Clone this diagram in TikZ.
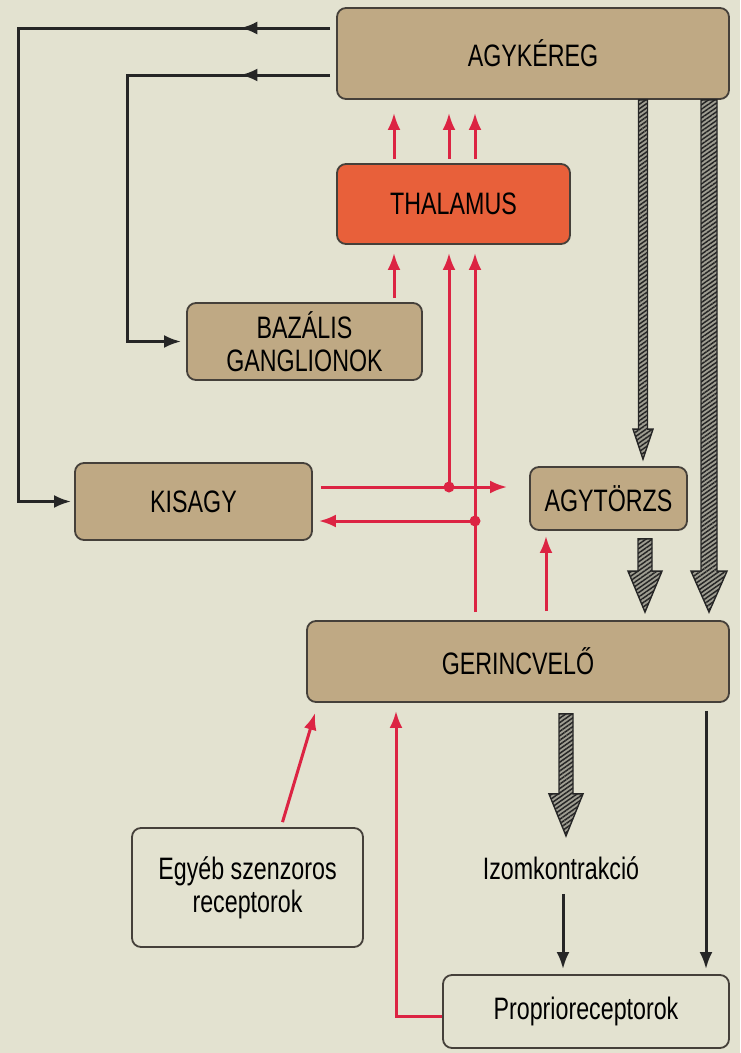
\documentclass[tikz,border=0pt]{standalone}
\usepackage{fontspec}
\setmainfont{Liberation Sans}[FakeStretch=0.75]
\usetikzlibrary{arrows.meta, calc, patterns.meta, decorations.markings}

\definecolor{paper}{HTML}{E3E2D0}
\definecolor{tan}{HTML}{BFA984}
\definecolor{thal}{HTML}{E8603A}
\definecolor{nervered}{HTML}{DC2443}
\definecolor{edge}{HTML}{45403A}

% hatched motor arrow: start, end, half shaft, half head, head length
\newcommand\hatcharrow[5]{%
  \draw[hatch] let \p1=(#1), \p2=(#2) in
    (\x1-#3,\y1) -- (\x1-#3,\y2+#5) -- (\x1-#4,\y2+#5) -- (\x1,\y2)
    -- (\x1+#4,\y2+#5) -- (\x1+#3,\y2+#5) -- (\x1+#3,\y1) -- cycle;}

\begin{document}
\begin{tikzpicture}[
  x=1pt, y=-1pt,
  box/.style={rectangle, draw=edge, line width=1.8pt, rounded corners=9pt, fill=tan, inner sep=0pt, align=center, font=\fontsize{31}{33}\selectfont},
  thalbox/.style={box, fill=thal},
  openbox/.style={box, fill=none},
  nerve/.style={draw=nervered, line width=3pt, -{Latex[length=17pt,width=13pt]}},
  motor/.style={color=black!85, line width=3pt, -{Latex[length=17pt,width=13pt]}},
  midtip/.style={postaction={decorate, decoration={markings, mark=at position #1 with {\arrow{Latex[length=17pt,width=13pt]}}}}},
  hatch/.style={draw=black!85, line width=1.4pt, preaction={fill=black!30!paper}, preaction={pattern={Lines[angle=35,distance=3.6pt,line width=1.5pt]}, pattern color=black!85}},
  junction/.style={circle, fill=nervered, inner sep=0pt, minimum size=11pt}
]
\fill[paper] (0,0) rectangle (740,1053);
\useasboundingbox (0,0) rectangle (740,1053);

% boxes
\node[box, minimum width=392pt, minimum height=91pt] (agykereg) at (533,53.5) {AGYKÉREG};
\node[thalbox, minimum width=233pt, minimum height=80pt] (thalamus) at (453.5,204) {THALAMUS};
\node[box, minimum width=235pt, minimum height=77pt] (bazalis) at (304.5,341.5) {BAZÁLIS\\GANGLIONOK};
\node[box, minimum width=237pt, minimum height=77pt] (kisagy) at (193.5,501.5) {KISAGY};
\node[box, minimum width=157pt, minimum height=63pt] (agytorzs) at (608.5,498.5) {AGYTÖRZS};
\node[box, minimum width=422pt, minimum height=81pt] (gerinc) at (518,661.5) {GERINCVELŐ};
\node[openbox, minimum width=231pt, minimum height=119pt] (egyeb) at (247.5,887.5) {Egyéb szenzoros\\receptorok};
\node[font=\fontsize{31}{33}\selectfont, inner sep=0pt] (izom) at (561,868) {Izomkontrakció};
\node[openbox, minimum width=286pt, minimum height=73pt] (proprio) at (586,1011.5) {Proprioreceptorok};

% columns and bends
\coordinate (c1) at (394,0);
\coordinate (c2) at (449,0);
\coordinate (c3) at (475,0);
\coordinate (c4) at (546,0);
\coordinate (c5) at (396,0);
\coordinate (c6) at (706,0);
\coordinate (kisout) at (449,487);
\coordinate (gerout) at (475,521);
\coordinate (l1) at (18,28);
\coordinate (l2) at (127,75);
\coordinate (h1) at (643,0);
\coordinate (h2) at (709,0);
\coordinate (h3) at (645,0);
\coordinate (h4) at (566,0);

% sensory (red) pathways
\foreach \c in {c1,c2,c3}
  \draw[nerve, shorten <=4pt, shorten >=13pt] (thalamus.north -| \c) -- (agykereg.south -| \c);
\draw[nerve, shorten <=4pt, shorten >=8pt] (bazalis.north -| c1) -- (thalamus.south -| c1);
\draw[nerve, shorten >=8pt] (kisout) -- (thalamus.south -| kisout);
\draw[nerve, shorten <=8pt, shorten >=8pt] (gerinc.north -| gerout) -- (thalamus.south -| gerout);
\draw[nerve, shorten <=8pt, shorten >=22pt] (kisagy.east |- kisout) -- (agytorzs.west |- kisout);
\draw[nerve, shorten >=6pt] (gerout) -- (kisagy.east |- gerout);
\node[junction] (j1) at (kisout) {};
\node[junction] (j2) at (gerout) {};
\draw[nerve, shorten <=9pt, shorten >=5pt] (gerinc.north -| c4) -- (agytorzs.south -| c4);
\draw[nerve] ($(egyeb.north)+(35,-5)$) -- ($(gerinc.south west)+(9,10)$);
\draw[nerve, shorten >=8pt] ($(proprio.west)+(0,5)$) -| (gerinc.south -| c5);

% descending (black) pathways
\draw[motor, midtip=0.113, shorten <=6pt, shorten >=3pt] (agykereg.west |- l1) -- (l1) |- (kisagy.west);
\draw[motor, midtip=0.179, shorten <=6pt, shorten >=5pt] (agykereg.west |- l2) -- (l2) |- (bazalis.west);
\draw[motor, shorten <=14pt, shorten >=5pt] (izom.south -| 563,0) -- (proprio.north -| 563,0);
\draw[motor, shorten <=8pt, shorten >=5pt] (gerinc.south -| c6) -- (proprio.north -| c6);

% hatched motor arrows
\hatcharrow{agykereg.south -| h1}{$(agytorzs.north -| h1)+(0,-7)$}{4.5pt}{10pt}{30pt}
\hatcharrow{agykereg.south -| h2}{$(gerinc.north -| h2)+(0,-8)$}{8pt}{18pt}{41pt}
\hatcharrow{$(agytorzs.south -| h3)+(0,8)$}{$(gerinc.north -| h3)+(0,-8)$}{7pt}{17pt}{41pt}
\hatcharrow{$(gerinc.south -| h4)+(0,11)$}{$(gerinc.south -| h4)+(0,133)$}{7pt}{17pt}{42pt}
\end{tikzpicture}
\end{document}
